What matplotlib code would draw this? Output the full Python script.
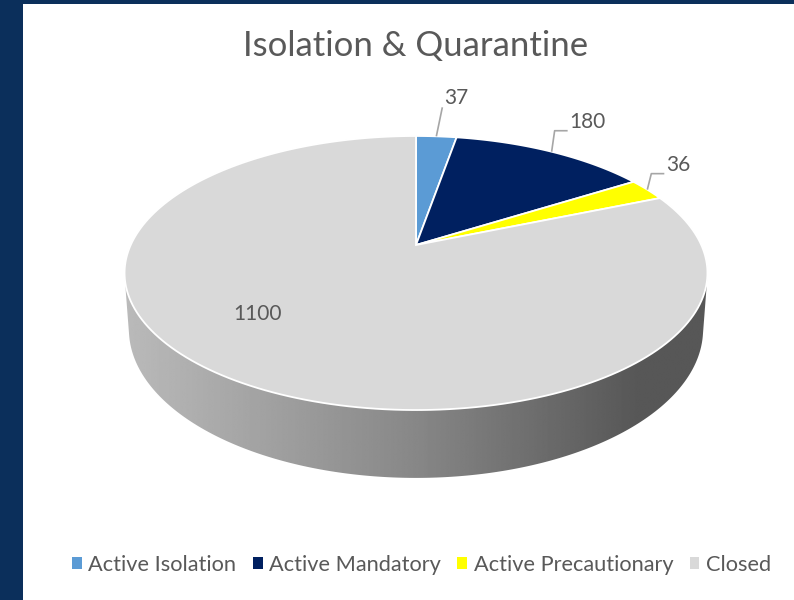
import numpy as np
import matplotlib
matplotlib.use("Agg")
import matplotlib.pyplot as plt
from matplotlib.patches import Polygon, Rectangle, Patch

categories = ["Active Isolation", "Active Mandatory", "Active Precautionary", "Closed"]
values = [37, 180, 36, 1100]
colors = ["#5B9BD5", "#002060", "#FFFF00", "#D9D9D9"]
title = "Isolation & Quarantine"

FONT = ["Lato", "DejaVu Sans"]
TXT = "#595959"

W, H = 794, 600
fig = plt.figure(figsize=(W / 100, H / 100), dpi=100, facecolor="#0B2F5B")
ax = fig.add_axes([0, 0, 1, 1])
ax.set_xlim(0, W)
ax.set_ylim(H, 0)
ax.axis("off")
ax.add_patch(Rectangle((23, 4), W - 23, H - 4, facecolor="white", edgecolor="none", zorder=0))

# perspective pie geometry (pixel space)
cx, cy = 416.0, 245.0
sx, sy = 285.3, 131.3
k = 0.2044
depth = 54.0


def proj(theta_deg, r=1.0):
    t = np.radians(theta_deg)
    u = r * np.sin(t)
    v = -r * np.cos(t)
    w = 1 - k * v
    return cx + sx * u / w, cy + sy * v / w, w


def arc(t0, t1, n=200):
    th = np.linspace(t0, t1, n)
    return proj(th)


total = float(sum(values))
angles = np.concatenate([[0], np.cumsum(values) / total * 360.0])

# side wall: convex hull of top and bottom ellipses
th_all = np.linspace(0, 360, 720)
xt, yt, wt = proj(th_all)
xb = cx + (xt - cx) * 0.985
yb = yt + depth / wt
pts = np.vstack([np.column_stack([xt, yt]), np.column_stack([xb, yb])])


def hull(p):
    p = sorted(map(tuple, p))
    def cross(o, a, b):
        return (a[0] - o[0]) * (b[1] - o[1]) - (a[1] - o[1]) * (b[0] - o[0])
    lower, upper = [], []
    for q in p:
        while len(lower) >= 2 and cross(lower[-2], lower[-1], q) <= 0:
            lower.pop()
        lower.append(q)
    for q in reversed(p):
        while len(upper) >= 2 and cross(upper[-2], upper[-1], q) <= 0:
            upper.pop()
        upper.append(q)
    return np.array(lower[:-1] + upper[:-1])


hp = hull(pts)
wall = Polygon(hp, closed=True, facecolor="none", edgecolor="none")
ax.add_patch(wall)
gx = np.linspace(100, 730, 400)
stops_x = [124, 416, 640, 730]
stops_v = [0.73, 0.53, 0.34, 0.34]
gv = np.interp(gx, stops_x, stops_v)
grad = np.tile(gv, (10, 1))
im = ax.imshow(grad, cmap="gray", vmin=0, vmax=1, extent=(100, 730, 500, 100),
               aspect="auto", zorder=1, interpolation="bilinear")
im.set_clip_path(wall)
ax.set_xlim(0, W)
ax.set_ylim(H, 0)

# top wedges
for i, c in enumerate(colors):
    x, y, _ = arc(angles[i], angles[i + 1])
    poly = np.vstack([[cx, cy], np.column_stack([x, y])])
    ax.add_patch(Polygon(poly, closed=True, facecolor=c, edgecolor="white",
                         linewidth=1.3, joinstyle="miter", zorder=2))

# data labels
label_off = [(6, -29, 0), (3, -21, 13), (4, -16, 13)]
for i in range(3):
    mid = (angles[i] + angles[i + 1]) / 2
    x0, y0, _ = proj(mid)
    dx, dy, hl = label_off[i]
    xe, ye = x0 + dx, y0 + dy
    ax.plot([x0, xe, xe + hl], [y0, ye, ye], color="#A6A6A6", lw=1.2, zorder=3,
            solid_capstyle="butt")
    ax.text(xe + hl + 2, ye + 1, str(values[i]), fontsize=15, color=TXT,
            family=FONT, ha="left", va="bottom", zorder=4)

mid = (angles[3] + angles[4]) / 2 + 13.2
x1, y1, _ = proj(mid, 0.69)
ax.text(x1, y1, str(values[3]), fontsize=15, color=TXT, family=FONT,
        ha="center", va="center", zorder=4)

ax.text(416, 46, title, fontsize=25, color=TXT, family=FONT,
        ha="center", va="center")

handles = [Patch(facecolor=c, edgecolor="none") for c in colors]
leg = fig.legend(handles, categories, loc="center", bbox_to_anchor=(0.531, 1 - 565 / H),
                 ncol=4, frameon=False, handlelength=0.45,
                 handleheight=0.45, handletextpad=0.3, columnspacing=0.75,
                 prop={"family": FONT, "size": 15.7})
for t in leg.get_texts():
    t.set_color(TXT)

fig.savefig("out.png", dpi=100, facecolor=fig.get_facecolor())
